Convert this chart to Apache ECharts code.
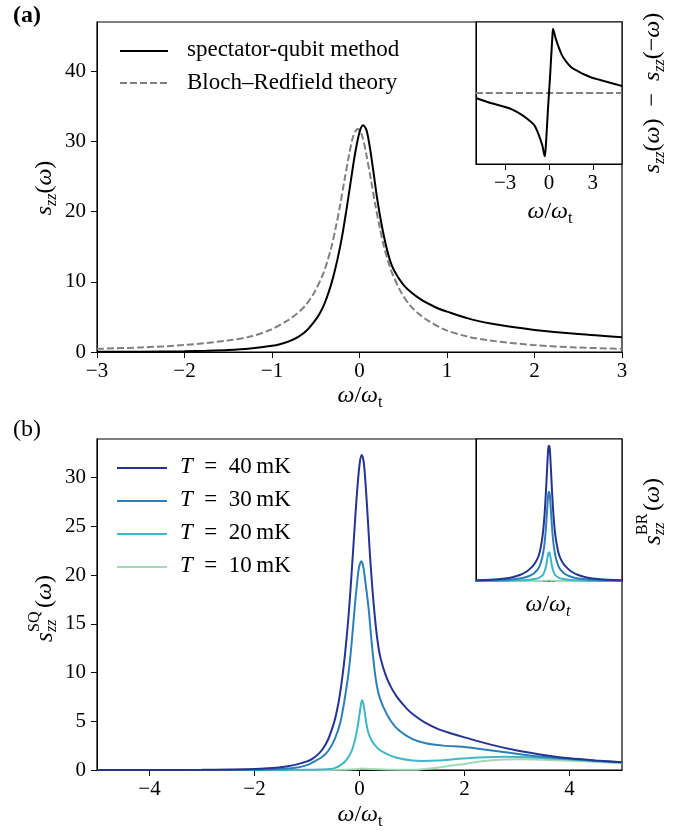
<!DOCTYPE html>
<html><head><meta charset="utf-8">
<script src="https://cdn.jsdelivr.net/npm/echarts@6/dist/echarts.min.js"></script>
<style>html,body{margin:0;padding:0;background:#fff}#c{width:695px;height:831px}</style>
</head><body><div id="c"></div>
<script>
const FONT = "'Liberation Serif','DejaVu Serif',serif";

// ---------- Panel (a): main ----------
const aXsq = [-3,-2.5,-2,-1.75,-1.5,-1.25,-1,-0.9,-0.8,-0.7,-0.6,-0.5,-0.45,-0.4,-0.35,-0.3,-0.25,-0.2,-0.15,-0.1,-0.05,0,0.04,0.08,0.12,0.16,0.2,0.25,0.3,0.35,0.4,0.5,0.6,0.7,0.8,0.9,1,1.25,1.5,1.75,2,2.5,3];
const aSQ  = [0.02,0.05,0.1,0.17,0.28,0.5,0.88,1.15,1.55,2.15,3.1,4.6,5.6,6.9,8.6,10.7,13.3,16.4,20.2,24.3,28.3,31.3,32.3,31.6,29.0,25.6,22.0,18.3,15.3,13.0,11.5,9.6,8.4,7.5,6.8,6.2,5.75,4.75,4.05,3.55,3.15,2.55,2.1];
const aXbr = [-3,-2.5,-2,-1.5,-1.25,-1.02,-0.82,-0.72,-0.62,-0.52,-0.42,-0.37,-0.32,-0.27,-0.22,-0.17,-0.12,-0.07,-0.02,0.03,0.08,0.13,0.18,0.23,0.28,0.33,0.38,0.48,0.58,0.68,0.78,0.98,1.23,1.48,1.98,2.48,3];
const aBR  = [0.45,0.65,1.0,1.65,2.2,3.15,4.5,5.4,6.6,8.4,11.0,12.8,15.0,17.8,21.0,24.6,28.0,30.8,31.8,30.8,28.0,24.6,21.0,17.8,15.0,12.8,11.0,8.4,6.6,5.4,4.5,3.15,2.2,1.65,1.0,0.65,0.45];
const aNames = ['spectator-qubit method', 'Bloch\u2013Redfield theory'];
const aXTicks = [-3,-2,-1,0,1,2,3];
const aYTicks = [0,10,20,30,40];

// ---------- Panel (a): inset, s(w) - s(-w) ----------
const iaX    = [-5,-4,-3,-2.5,-2,-1.5,-1,-0.69,-0.46,-0.36,-0.29,-0.22,-0.15,-0.08,0,0.08,0.15,0.22,0.275,0.35,0.45,0.6,0.8,1,1.5,2,2.5,3,3.5,4,4.5,5];
const iaDiff = [-0.75,-1.5,-2.1,-2.5,-3.1,-3.85,-4.85,-6.35,-7.85,-8.9,-9.5,-8.0,-5.5,-2.75,0,2.75,5.5,8.0,9.65,9.1,8.25,7.25,6.1,5.25,3.9,3.25,2.7,2.25,1.95,1.65,1.35,1.05];
const iaZeroX = [-5,5];
const iaZeroY = [0,0];
const iaXTicks = [-3,0,3];

// ---------- Panel (b): main, SQ spectra ----------
const temps = ['40','30','20','10'];
const tColors = ['#253494','#2c7fb8','#41b6c4','#a1dab4'];
const bX40 = [-5,-4,-3,-2.5,-2,-1.75,-1.5,-1.25,-1,-0.9,-0.8,-0.7,-0.6,-0.5,-0.45,-0.4,-0.35,-0.3,-0.25,-0.2,-0.15,-0.1,-0.05,0,0.04,0.08,0.12,0.16,0.2,0.25,0.3,0.35,0.4,0.5,0.6,0.7,0.8,0.9,1,1.25,1.5,1.75,2,2.5,3,3.5,4,4.5,5];
const b40  = [0,0.005,0.02,0.05,0.1,0.17,0.28,0.5,0.88,1.15,1.55,2.15,3.1,4.6,5.6,6.9,8.6,10.7,13.3,16.4,20.2,24.3,28.3,31.3,32.3,31.6,29.0,25.6,22.0,18.3,15.3,13.0,11.5,9.7,8.5,7.6,6.9,6.3,5.8,4.85,4.2,3.75,3.35,2.6,2.0,1.55,1.2,0.98,0.8];
const bX30 = [-5,-3,-2,-1.5,-1.25,-1,-0.88,-0.72,-0.59,-0.47,-0.37,-0.29,-0.21,-0.15,-0.09,-0.03,0,0.04,0.08,0.1,0.17,0.23,0.295,0.36,0.45,0.6,0.75,1,1.26,1.6,2,2.3,2.74,3.37,4,4.5,5];
const b30  = [0,0,0.03,0.1,0.2,0.5,0.82,1.3,2.0,3.2,4.77,7.0,9.9,13.0,16.75,20.0,21.0,21.4,20.6,19.8,16.75,13.2,9.9,7.9,6.5,5.0,4.08,3.2,2.75,2.5,2.36,2.15,1.85,1.4,1.15,0.95,0.8];
const bX20 = [-5,-2,-1,-0.75,-0.56,-0.45,-0.37,-0.28,-0.2,-0.14,-0.09,-0.04,0,0.03,0.05,0.07,0.1,0.13,0.17,0.23,0.3,0.4,0.5,0.6,0.77,1,1.2,1.5,1.8,2.1,2.42,2.75,3.05,3.5,4,4.5,5];
const b20  = [0,0,0.02,0.05,0.1,0.25,0.48,0.85,1.4,2.1,3.0,4.3,5.7,6.8,7.16,6.9,5.9,4.77,3.8,3.05,2.5,2.0,1.7,1.45,1.17,0.97,0.92,0.97,1.1,1.23,1.32,1.35,1.33,1.24,1.08,0.92,0.77];
const bX10 = [-5,-1,-0.3,-0.1,0.05,0.2,0.5,1.0,1.15,1.35,1.54,1.75,2.0,2.2,2.42,2.75,3.05,3.5,4,4.5,5];
const b10  = [0,0,0.02,0.08,0.15,0.1,0.05,0.03,0.05,0.15,0.28,0.45,0.62,0.8,0.95,1.08,1.1,1.05,0.95,0.82,0.7];
const bXTicks = [-4,-2,0,2,4];
const bYTicks = [0,5,10,15,20,25,30];

// ---------- Panel (b): inset, BR spectra ----------
const ibX  = [-5,-4,-3,-2.5,-2,-1.5,-1.2,-1,-0.8,-0.65,-0.5,-0.4,-0.3,-0.2,-0.1,-0.05,0,0.05,0.1,0.2,0.3,0.4,0.5,0.65,0.8,1,1.2,1.5,2,2.5,3,4,5];
const ib40 = [0.2,0.3,0.6,0.9,1.4,2.3,3.2,4.0,5.2,6.6,9.2,11.8,15.8,21.6,28.5,31.2,31.8,31.2,28.5,21.6,15.8,11.8,9.2,6.6,5.2,4.0,3.2,2.3,1.4,0.9,0.6,0.3,0.2];
const ib30 = [0.08,0.14,0.25,0.4,0.6,1.0,1.45,1.9,2.6,3.5,5.0,6.6,9.0,13.0,18.2,20.4,21.0,20.4,18.2,13.0,9.0,6.6,5.0,3.5,2.6,1.9,1.45,1.0,0.6,0.4,0.25,0.14,0.08];
const ib20 = [0.02,0.04,0.07,0.1,0.15,0.25,0.35,0.45,0.6,0.8,1.15,1.55,2.3,3.6,5.6,6.5,6.76,6.5,5.6,3.6,2.3,1.55,1.15,0.8,0.6,0.45,0.35,0.25,0.15,0.1,0.07,0.04,0.02];
const ib10 = [0,0,0,0,0,0,0,0,0.01,0.01,0.02,0.03,0.04,0.06,0.08,0.09,0.1,0.09,0.08,0.06,0.04,0.03,0.02,0.01,0.01,0,0,0,0,0,0,0,0];

// ---------- build ----------
const zip = (xs, ys) => xs.map((x, i) => [x, ys[i]]);
const fmt = v => (v < 0 ? '\u2212' + Math.abs(v) : String(v));

function xAxis(grid, min, max, ticks) {
  const has = ticks && ticks.length;
  return {
    type: 'value', gridIndex: grid, min, max,
    axisLine: { show: true, onZero: false, lineStyle: { color: '#000', width: 1 } },
    axisTick: has ? { show: true, customValues: ticks, length: 6, lineStyle: { color: '#000' } } : { show: false },
    axisLabel: has ? { show: true, customValues: ticks, formatter: fmt, color: '#000', fontFamily: FONT, fontSize: 21, margin: 9 } : { show: false },
    splitLine: { show: false }
  };
}
function yAxis(grid, min, max, ticks) {
  const has = ticks && ticks.length;
  return {
    type: 'value', gridIndex: grid, min, max,
    axisLine: { show: true, onZero: false, lineStyle: { color: '#000', width: 1 } },
    axisTick: has ? { show: true, customValues: ticks, length: 6, lineStyle: { color: '#000' } } : { show: false },
    axisLabel: has ? { show: true, customValues: ticks, formatter: fmt, color: '#000', fontFamily: FONT, fontSize: 21, margin: 11 } : { show: false },
    splitLine: { show: false }
  };
}
function line(idx, xs, ys, color, dash, name) {
  return {
    type: 'line', name, xAxisIndex: idx, yAxisIndex: idx, data: zip(xs, ys),
    showSymbol: false, symbol: 'none', smooth: 0.3,
    lineStyle: { color, width: 2, type: dash || 'solid' }, silent: true, animation: false
  };
}
const gridStyle = { show: true, borderColor: '#000', borderWidth: 1.2, backgroundColor: '#fff' };

const R = {
  it: { fontFamily: FONT, fontSize: 24, fontStyle: 'italic', fill: '#000', lineHeight: 30 },
  n:  { fontFamily: FONT, fontSize: 24, fill: '#000', lineHeight: 30 },
  sub:{ fontFamily: FONT, fontSize: 16, fontStyle: 'italic', fill: '#000', lineHeight: 16, verticalAlign: 'bottom' },
  subr:{ fontFamily: FONT, fontSize: 16, fill: '#000', lineHeight: 16, verticalAlign: 'bottom' },
  li: { fontFamily: FONT, fontSize: 23, fontStyle: 'italic', fill: '#000' },
  ln: { fontFamily: FONT, fontSize: 23, fill: '#000' }
};
function txt(x, y, text, opts) {
  opts = opts || {};
  return {
    type: 'text', x, y, rotation: opts.rot || 0, silent: true,
    style: { text, rich: R, align: opts.align || 'center', verticalAlign: 'middle',
             fontFamily: FONT, fontSize: opts.size || 23, fontWeight: opts.weight || 'normal', fill: '#000' }
  };
}
function lg(x1, x2, y, color, dash) {
  return { type: 'line', silent: true, shape: { x1, y1: y, x2, y2: y },
           style: { stroke: color, lineWidth: 2, lineDash: dash || null } };
}
// stacked sub/superscript label, rotated
function stacked(cx, cy, sup) {
  const S = { fontFamily: FONT, fill: '#000' };
  return {
    type: 'group', x: cx, y: cy, rotation: Math.PI / 2, silent: true,
    children: [
      { type: 'text', x: -34, y: 0, style: Object.assign({ text: 's', fontSize: 25, fontStyle: 'italic', align: 'left', verticalAlign: 'middle' }, S) },
      { type: 'text', x: -24, y: 7, style: Object.assign({ text: 'zz', fontSize: 16, fontStyle: 'italic', align: 'left', verticalAlign: 'middle' }, S) },
      { type: 'text', x: -24, y: -10, style: Object.assign({ text: sup, fontSize: 16, align: 'left', verticalAlign: 'middle' }, S) },
      { type: 'text', x: 0, y: 0, style: { text: '{n|(}{it|\u03c9}{n|)}', rich: R, align: 'left', verticalAlign: 'middle' } }
    ]
  };
}
const EN = '\u2002';

const graphic = [
  txt(13, 16, '(a)', { align: 'left', size: 24, weight: 'bold' }),
  txt(13, 430, '(b)', { align: 'left', size: 24 }),
  // legend (a)
  lg(120, 168, 51, '#000'),
  lg(120, 168, 83, '#808080', [7, 3]),
  txt(187, 50, aNames[0], { align: 'left', size: 23 }),
  txt(187, 83, aNames[1], { align: 'left', size: 23 }),
  // legend (b)
  ...temps.map((t, i) => lg(117, 167, 468 + i * 33, tColors[i])),
  ...temps.map((t, i) => txt(180, 467 + i * 33, '{li|T}{ln|' + EN + '=' + EN + t + '\u2009mK}', { align: 'left' })),
  // axis names
  txt(360, 396, '{it|\u03c9}{n|/}{it|\u03c9}{subr|t}'),
  txt(360, 815, '{it|\u03c9}{n|/}{it|\u03c9}{subr|t}'),
  txt(550, 212, '{it|\u03c9}{n|/}{it|\u03c9}{subr|t}'),
  txt(548, 605, '{it|\u03c9}{n|/}{it|\u03c9}{sub|t}'),
  txt(45, 188, '{it|s}{sub|zz}{n|(}{it|\u03c9}{n|)}', { rot: Math.PI / 2 }),
  txt(653, 93, '{it|s}{sub|zz}{n|(}{it|\u03c9}{n|)' + EN + '\u2212' + EN + '}{it|s}{sub|zz}{n|(\u2212}{it|\u03c9}{n|)}', { rot: Math.PI / 2 }),
  stacked(45, 608, 'SQ'),
  stacked(653, 511, 'BR')
];

const option = {
  animation: false,
  backgroundColor: '#fff',
  grid: [
    Object.assign({ left: 97, top: 22, width: 525, height: 330 }, gridStyle),
    Object.assign({ left: 476, top: 22, width: 146, height: 142 }, gridStyle),
    Object.assign({ left: 97, top: 439, width: 525, height: 331 }, gridStyle),
    Object.assign({ left: 476, top: 439, width: 146, height: 142 }, gridStyle)
  ],
  xAxis: [
    xAxis(0, -3, 3, aXTicks),
    xAxis(1, -5, 5, iaXTicks),
    xAxis(2, -5, 5, bXTicks),
    xAxis(3, -5, 5, null)
  ],
  yAxis: [
    yAxis(0, 0, 47, aYTicks),
    yAxis(1, -10.65, 10.65, null),
    yAxis(2, 0, 33.95, bYTicks),
    yAxis(3, 0, 33.4, null)
  ],
  series: [
    line(0, aXbr, aBR, '#808080', [7, 3], aNames[1]),
    line(0, aXsq, aSQ, '#000', null, aNames[0]),
    line(1, iaZeroX, iaZeroY, '#808080', [7, 3], 'zero'),
    line(1, iaX, iaDiff, '#000', null, 'difference'),
    line(2, bX10, b10, tColors[3], null, 'T=10 mK'),
    line(2, bX20, b20, tColors[2], null, 'T=20 mK'),
    line(2, bX30, b30, tColors[1], null, 'T=30 mK'),
    line(2, bX40, b40, tColors[0], null, 'T=40 mK'),
    line(3, ibX, ib10, tColors[3], null, 'BR 10 mK'),
    line(3, ibX, ib20, tColors[2], null, 'BR 20 mK'),
    line(3, ibX, ib30, tColors[1], null, 'BR 30 mK'),
    line(3, ibX, ib40, tColors[0], null, 'BR 40 mK')
  ],
  graphic
};
const chart = echarts.init(document.getElementById('c'), null, { renderer: 'canvas' });
chart.setOption(option);
</script></body></html>
